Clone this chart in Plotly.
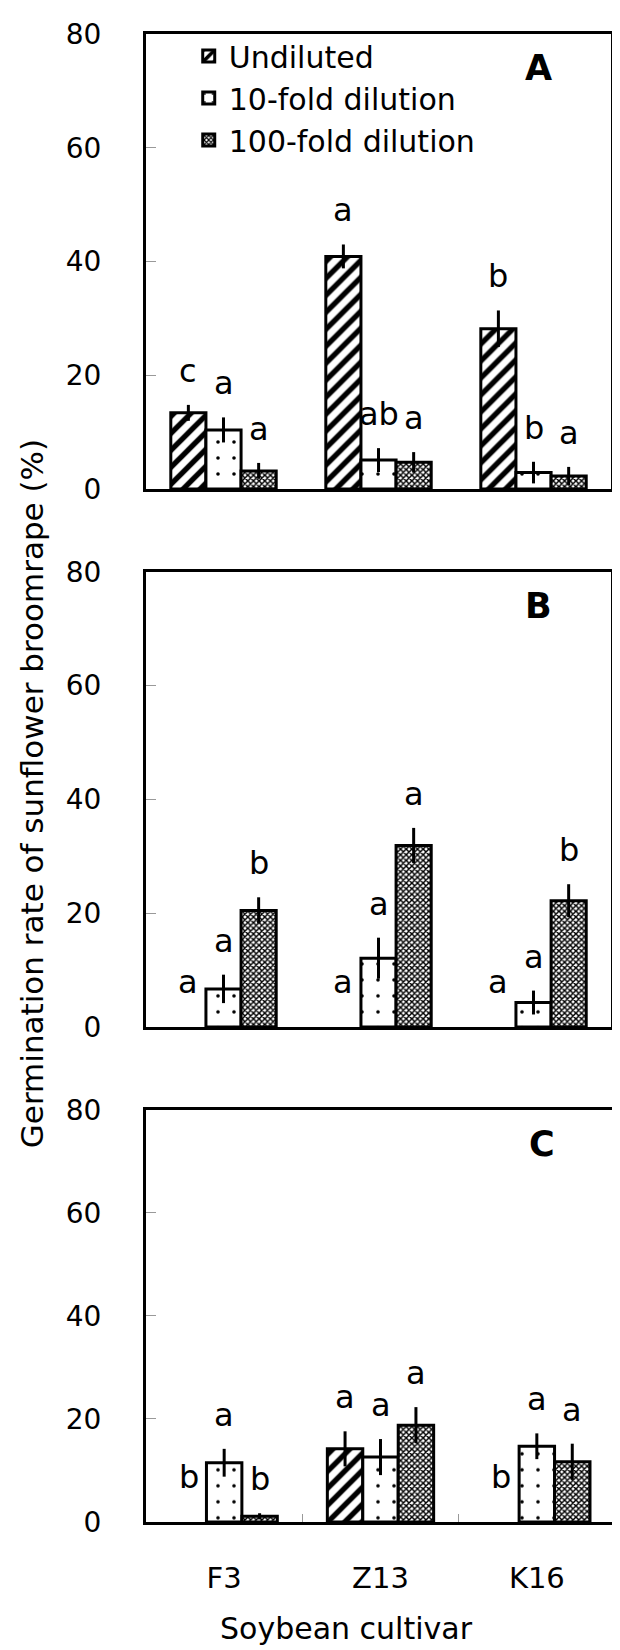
import plotly.graph_objects as go

# ---------------- data ----------------
cultivars = ["F3", "Z13", "K16"]
series_names = ["Undiluted", "10-fold dilution", "100-fold dilution"]
y_ticks = [0, 20, 40, 60, 80]
panel_labels = ["A", "B", "C"]

# Panel A
a_undiluted = [13.4, 40.9, 28.2]
a_undiluted_err = [1.4, 2.1, 3.2]
a_fold10 = [10.4, 5.1, 2.9]
a_fold10_err = [2.2, 2.1, 1.9]
a_fold100 = [3.2, 4.7, 2.3]
a_fold100_err = [1.4, 1.8, 1.6]
a_letters = [["c", "a", "b"], ["a", "ab", "b"], ["a", "a", "a"]]

# Panel B
b_undiluted = [0, 0, 0]
b_undiluted_err = [0, 0, 0]
b_fold10 = [6.7, 12.1, 4.3]
b_fold10_err = [2.5, 3.6, 2.1]
b_fold100 = [20.5, 31.9, 22.2]
b_fold100_err = [2.3, 3.1, 2.9]
b_letters = [["a", "a", "a"], ["a", "a", "a"], ["b", "a", "b"]]

# Panel C
c_undiluted = [0, 14.2, 0]
c_undiluted_err = [0, 3.4, 0]
c_fold10 = [11.5, 12.6, 14.7]
c_fold10_err = [2.7, 3.5, 2.5]
c_fold100 = [1.1, 18.8, 11.7]
c_fold100_err = [0.6, 3.5, 3.5]
c_letters = [["b", "a", "b"], ["a", "a", "a"], ["b", "a", "a"]]

panels = [
    ([a_undiluted, a_fold10, a_fold100], [a_undiluted_err, a_fold10_err, a_fold100_err], a_letters),
    ([b_undiluted, b_fold10, b_fold100], [b_undiluted_err, b_fold10_err, b_fold100_err], b_letters),
    ([c_undiluted, c_fold10, c_fold100], [c_undiluted_err, c_fold10_err, c_fold100_err], c_letters),
]

# ---------------- styling ----------------
FONT = "DejaVu Sans"
patterns = [
    dict(shape="/", size=12, solidity=0.45, fgcolor="black", bgcolor="white", fgopacity=1),
    dict(shape=".", size=16, solidity=0.04, fgcolor="black", bgcolor="white", fgopacity=1),
    dict(shape="x", size=4, solidity=0.6, fgcolor="black", bgcolor="white", fgopacity=1),
]

W, H = 620, 1650
L, R, T, B = 138, 10, 23, 136
plot_w = W - L - R
plot_h = H - T - B


def py2paper(py):
    return (H - B - py) / plot_h


y_domains = [
    [py2paper(479), py2paper(23)],
    [py2paper(1018), py2paper(562)],
    [py2paper(1514), py2paper(1101)],
]
x_domains = [[0, 468 / plot_w], [0, 468 / plot_w], [0, 1]]
bargap = 0.32
bw = (1 - bargap) / 3

fig = go.Figure()
annotations = []

for p, (vals, errs, letters) in enumerate(panels):
    xa = "x" if p == 0 else f"x{p+1}"
    ya = "y" if p == 0 else f"y{p+1}"
    for j in range(3):
        line_w = [3 if v > 0 else 0 for v in vals[j]]
        fig.add_trace(go.Bar(
            x=cultivars, y=vals[j], name=series_names[j],
            xaxis=xa, yaxis=ya,
            showlegend=(p == 0),
            marker=dict(color="white", line=dict(color="black", width=line_w),
                        pattern=patterns[j]),
            error_y=dict(type="data", array=errs[j], visible=True,
                         width=0, thickness=3, color="black"),
        ))
        for i in range(3):
            top = vals[j][i] + errs[j][i]
            annotations.append(dict(
                x=i + (j - 1) * bw, y=top, xref=xa, yref=ya,
                text=letters[j][i], showarrow=False, yanchor="bottom",
                yshift=13 if vals[j][i] > 0 else 24,
                font=dict(family=FONT, size=32, color="black"),
            ))
    annotations.append(dict(
        x=(533 - L) / 468, y=1 - 34 / (456 if p < 2 else 413),
        xref=f"{xa} domain", yref=f"{ya} domain",
        text=f"<b>{panel_labels[p]}</b>", showarrow=False,
        xanchor="center", yanchor="middle",
        font=dict(family=FONT, size=35, color="black"),
    ))

# axis titles
annotations.append(dict(
    x=(24 - L) / plot_w, y=py2paper(784), xref="paper", yref="paper",
    text="Germination rate of sunflower broomrape (%)", textangle=-90,
    showarrow=False, xanchor="center", yanchor="middle",
    font=dict(family=FONT, size=31, color="black"),
))
annotations.append(dict(
    x=(340 - L) / plot_w, y=py2paper(1621), xref="paper", yref="paper",
    text="Soybean cultivar", showarrow=False, xanchor="center", yanchor="middle",
    font=dict(family=FONT, size=30, color="black"),
))

layout = dict(
    width=W, height=H,
    margin=dict(l=L, r=R, t=T, b=B),
    paper_bgcolor="white", plot_bgcolor="white",
    barmode="group", bargap=bargap, bargroupgap=0,
    font=dict(family=FONT, color="black"),
    annotations=annotations,
    legend=dict(
        x=(181 - L) / plot_w, y=py2paper(19), xanchor="left", yanchor="top",
        font=dict(family=FONT, size=30, color="black"),
        bgcolor="rgba(0,0,0,0)", tracegroupgap=0, itemwidth=30,
    ),
)

for p in range(3):
    sfx = "" if p == 0 else str(p + 1)
    layout[f"xaxis{sfx}"] = dict(
        domain=x_domains[p], anchor=f"y{sfx}", type="category",
        range=[-0.5, 2.5], showline=True, linewidth=3, linecolor="black",
        mirror=True, showgrid=False, zeroline=False,
        showticklabels=(p == 2),
        ticks="inside" if p == 2 else "", tickson="boundaries",
        ticklen=8, tickwidth=1, tickcolor="#999999",
        tickfont=dict(family=FONT, size=29, color="black"),
        ticklabelstandoff=28,
    )
    layout[f"yaxis{sfx}"] = dict(
        domain=y_domains[p], anchor=f"x{sfx}", range=[0, 80],
        tickvals=y_ticks, ticktext=[str(v) for v in y_ticks],
        showline=True, linewidth=3, linecolor="black", mirror=True,
        showgrid=False, zeroline=False,
        ticks="inside", ticklen=10, tickwidth=1, tickcolor="#999999",
        tickfont=dict(family=FONT, size=28, color="black"),
        ticklabelstandoff=36,
    )

fig.update_layout(**layout)
fig.write_html("out.html")
